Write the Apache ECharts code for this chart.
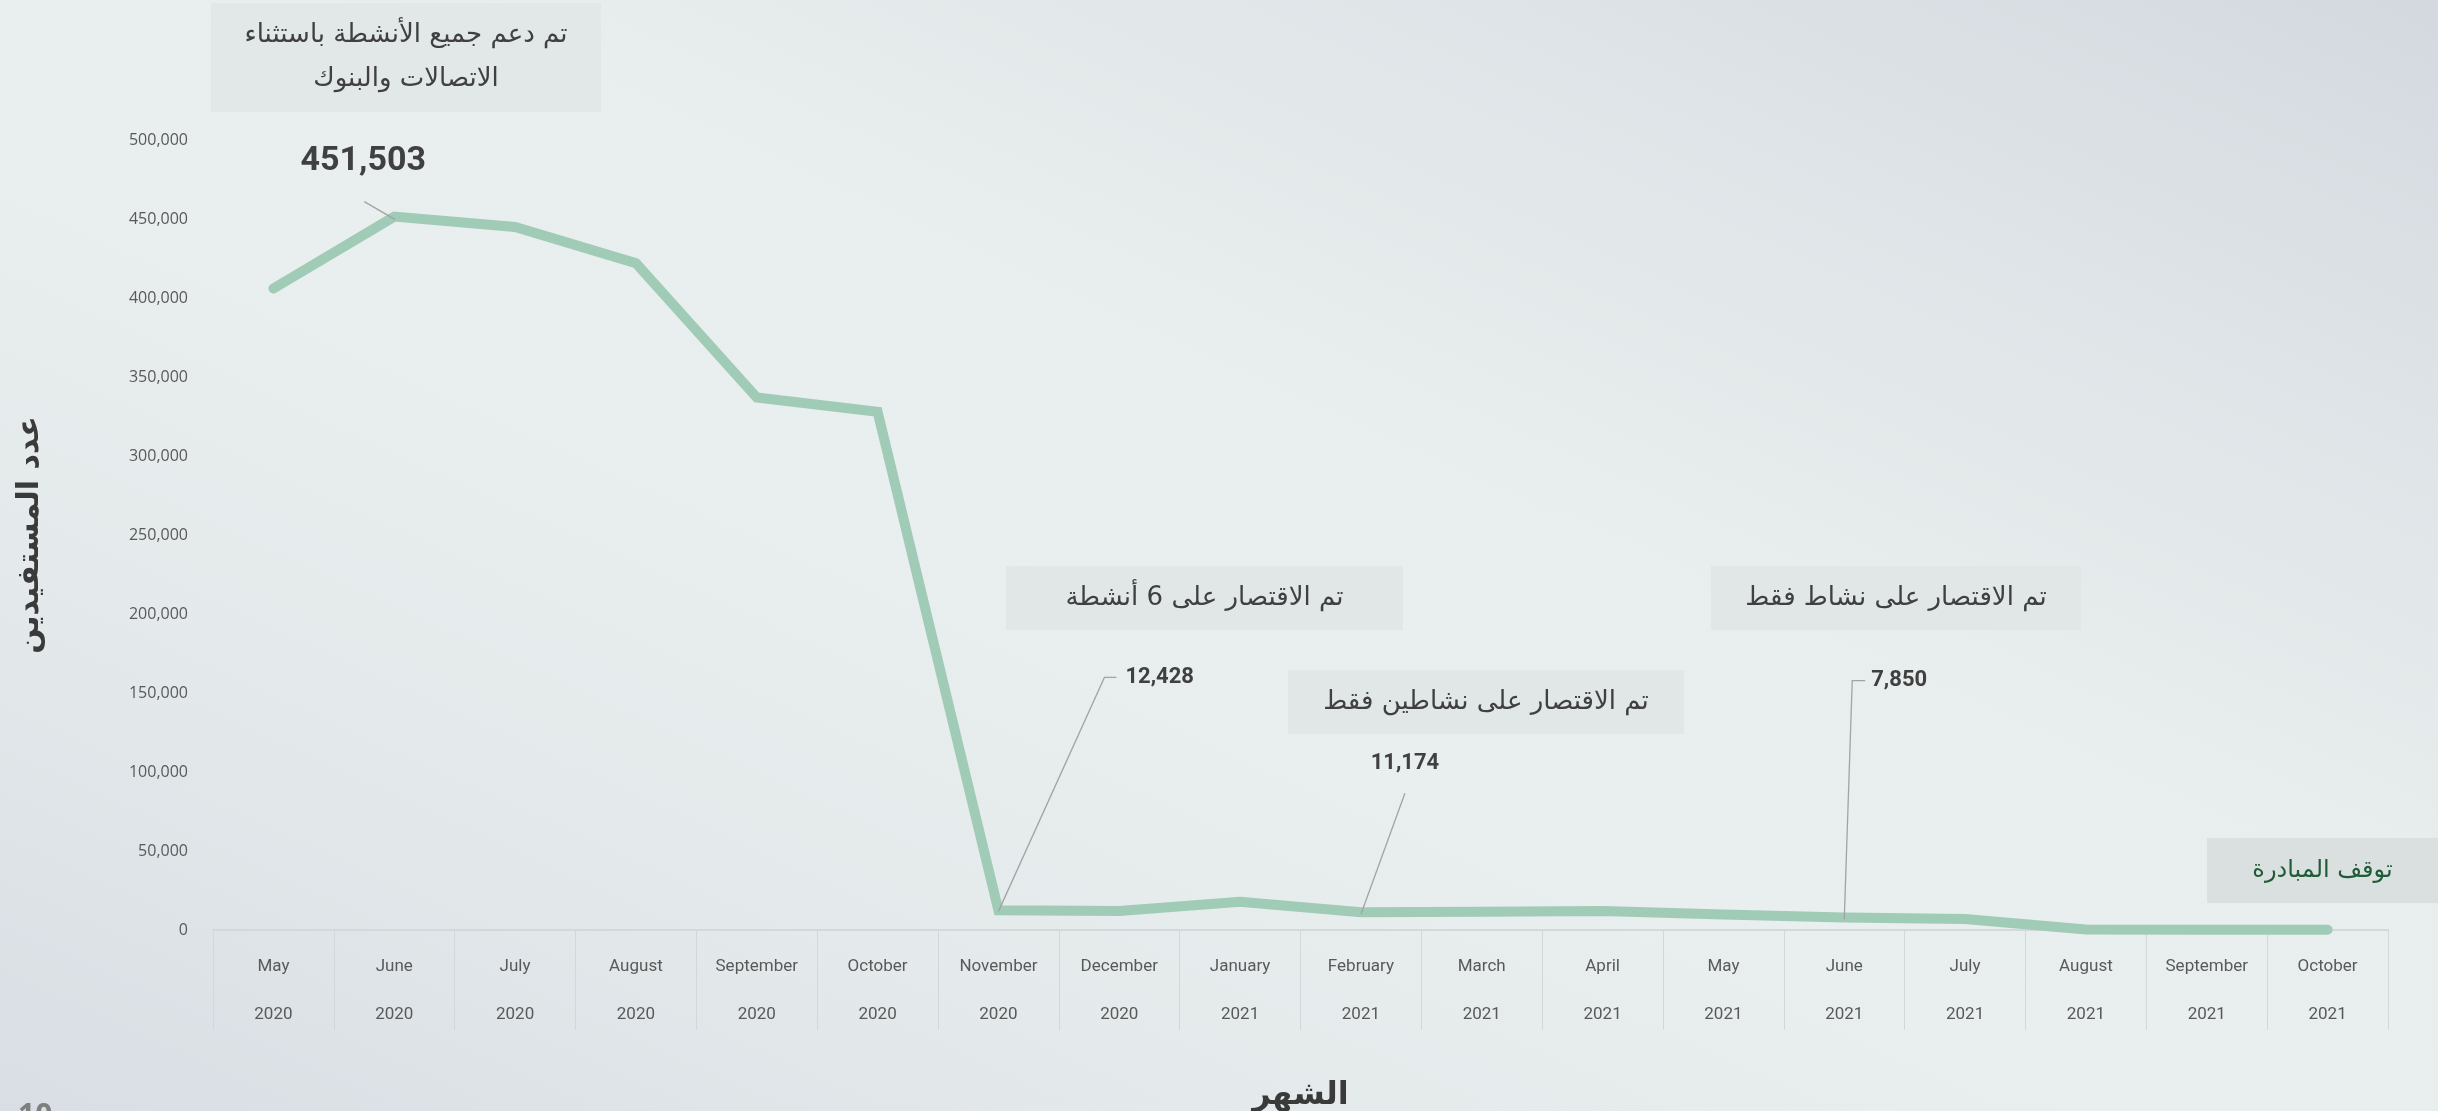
<!DOCTYPE html>
<html>
<head>
<meta charset="utf-8">
<script src="https://cdn.jsdelivr.net/npm/echarts@6/dist/echarts.min.js"></script>
<style>
  html, body { margin: 0; padding: 0; }
  body {
    width: 2438px; height: 1111px; overflow: hidden;
    background: linear-gradient(to top right, #d9dee5 0%, #e4e9eb 25%, #e9eeee 45%, #e8eded 60%, #dfe4e8 80%, #d4d9e0 100%);
  }
  #chart { width: 2438px; height: 1111px; }
</style>
</head>
<body>
<div id="chart"></div>
<script>
// months / years on the category axis
var months = ['May', 'June', 'July', 'August', 'September', 'October', 'November', 'December',
              'January', 'February', 'March', 'April', 'May', 'June', 'July', 'August', 'September', 'October'];
var years = ['2020', '2020', '2020', '2020', '2020', '2020', '2020', '2020',
             '2021', '2021', '2021', '2021', '2021', '2021', '2021', '2021', '2021', '2021'];
// number of beneficiaries per month
var beneficiaries = [406000, 451503, 445000, 422000, 337000, 328000, 12428, 12000,
                     17800, 11174, 11600, 12000, 9800, 7850, 6900, 300, 200, 200];
// points that get a value callout
var calloutIdx = [1, 6, 9, 13];
var yTicks = { min: 0, max: 500000, interval: 50000 };

var arabicFont = '"DejaVu Sans", "Noto Sans", sans-serif';
var numFont = '"Liberation Sans Narrow", "Roboto", "Open Sans", sans-serif';

// leader line + label offsets (px) from each callout point
var calloutLayout = [
  { path: [[1, 3], [-30, -15]], text: [-31, -55], align: 'center', size: 34 },
  { path: [[0, 1], [106, -233], [118, -233]], text: [127, -233], align: 'left', size: 22 },
  { path: [[0, 2], [44, -119]], text: [44, -149], align: 'center', size: 22 },
  { path: [[0, 2], [8, -237], [21, -237]], text: [27, -237], align: 'left', size: 22 }
];

function fmt(v) { return Number(v).toLocaleString('en-US'); }

function noteBox(x, y, w, h, lines, fill, color, size, lh) {
  var children = [{
    type: 'rect', shape: { x: 0, y: 0, width: w, height: h },
    style: { fill: fill }
  }];
  children.push({
    type: 'text', x: w / 2, y: h / 2,
    style: {
      text: lines.join('\n'), fill: color, font: 'normal ' + size + 'px ' + arabicFont,
      align: 'center', verticalAlign: 'middle', lineHeight: lh
    }
  });
  return { type: 'group', x: x, y: y, children: children };
}

var chart = echarts.init(document.getElementById('chart'));

var option = {
  backgroundColor: 'transparent',
  animation: false,
  grid: { left: 213, right: 50, top: 140, bottom: 181, containLabel: false, outerBoundsMode: 'none' },
  xAxis: {
    type: 'category',
    data: months.map(function (m, i) { return m + '\n' + years[i]; }),
    boundaryGap: true,
    name: 'الشهر',
    nameLocation: 'middle',
    nameGap: 150,
    nameTextStyle: { fontFamily: arabicFont, fontWeight: 'bold', fontSize: 32, color: '#3a3a3a' },
    axisLine: { show: true, lineStyle: { color: '#d5d7da', width: 2 } },
    axisTick: { show: true, interval: 0, length: 100, lineStyle: { color: '#d3d6da', width: 1 } },
    axisLabel: {
      interval: 0,
      margin: 13,
      formatter: function (v) {
        var p = v.split('\n');
        return '{m|' + p[0] + '}\n{y|' + p[1] + '}';
      },
      rich: {
        m: { fontFamily: numFont, fontSize: 17, color: '#595959', lineHeight: 48 },
        y: { fontFamily: numFont, fontSize: 17, color: '#595959', lineHeight: 48 }
      }
    },
    splitLine: { show: false }
  },
  yAxis: {
    type: 'value',
    min: yTicks.min, max: yTicks.max, interval: yTicks.interval,
    name: 'عدد المستفيدين',
    nameLocation: 'middle',
    nameRotate: 90,
    nameGap: 168,
    nameTextStyle: { fontFamily: arabicFont, fontWeight: 'bold', fontSize: 30, color: '#3a3a3a' },
    axisLine: { show: false },
    axisTick: { show: false },
    splitLine: { show: false },
    axisLabel: {
      margin: 25,
      fontFamily: '"Open Sans", sans-serif', fontSize: 16, color: '#595959',
      formatter: function (v) { return fmt(v); }
    }
  },
  series: [
    {
      type: 'line',
      data: beneficiaries,
      symbol: 'none',
      smooth: false,
      lineStyle: { color: '#a0cbb6', width: 10, cap: 'round', join: 'miter' },
      z: 2
    },
    {
      type: 'custom',
      coordinateSystem: 'cartesian2d',
      clip: false,
      z: 5,
      data: calloutIdx.map(function (i) { return [i, beneficiaries[i]]; }),
      encode: { x: 0, y: 1 },
      renderItem: function (params, api) {
        var p = api.coord([api.value(0), api.value(1)]);
        var c = calloutLayout[params.dataIndex];
        return {
          type: 'group',
          children: [
            {
              type: 'polyline',
              shape: { points: c.path.map(function (d) { return [p[0] + d[0], p[1] + d[1]]; }) },
              style: { stroke: '#a3a3a3', lineWidth: 1.3, fill: null }
            },
            {
              type: 'text',
              x: p[0] + c.text[0], y: p[1] + c.text[1],
              style: {
                text: fmt(api.value(1)), fill: '#404040',
                font: 'bold ' + c.size + 'px ' + numFont,
                align: c.align, verticalAlign: 'middle'
              }
            }
          ]
        };
      }
    }
  ],
  graphic: [
    noteBox(211, 3, 390, 109, ['تم دعم جميع الأنشطة باستثناء', 'الاتصالات والبنوك'], '#e1e8e7', '#404040', 26, 44),
    noteBox(1006, 566, 397, 64, ['تم الاقتصار على 6 أنشطة'], '#e0e7e6', '#404040', 26, 30),
    noteBox(1288, 670, 396, 64, ['تم الاقتصار على نشاطين فقط'], '#e0e7e6', '#404040', 26, 30),
    noteBox(1711, 566, 370, 64, ['تم الاقتصار على نشاط فقط'], '#e0e7e6', '#404040', 26, 30),
    noteBox(2207, 838, 231, 65, ['توقف المبادرة'], '#dadfe0', '#1e5c36', 24, 30),
    {
      type: 'text', left: 18, top: 1101,
      style: { text: '10', fill: '#7f7f7f', font: 'bold 30px "Open Sans", sans-serif' }
    }
  ]
};

chart.setOption(option);
</script>
</body>
</html>
